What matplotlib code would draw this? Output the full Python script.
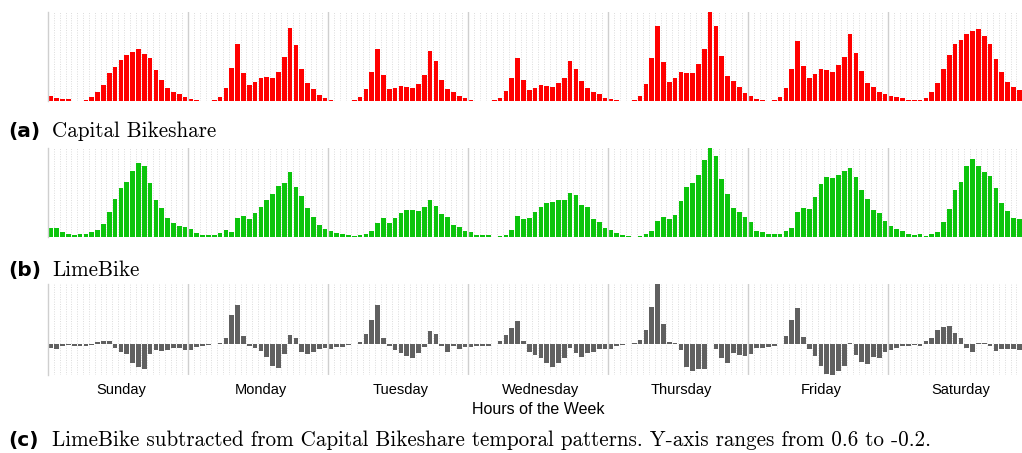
import matplotlib
matplotlib.use("Agg")
import matplotlib.pyplot as plt

days = ["Sunday", "Monday", "Tuesday", "Wednesday", "Thursday", "Friday", "Saturday"]

# share of trips per hour, each series scaled to its own max (Sun 0h .. Sat 23h)
cabi = [
    0.056, 0.034, 0.022, 0.022, 0.004, 0.004, 0.011, 0.045, 0.10, 0.18, 0.315, 0.38,
    0.46, 0.517, 0.55, 0.584, 0.528, 0.483, 0.348, 0.236, 0.146, 0.10, 0.079, 0.045,
    0.022, 0.011, 0.003, 0.003, 0.011, 0.045, 0.146, 0.371, 0.64, 0.315, 0.18, 0.213,
    0.258, 0.27, 0.258, 0.326, 0.494, 0.82, 0.629, 0.36, 0.202, 0.135, 0.067, 0.034,
    0.011, 0.003, 0.003, 0.003, 0.011, 0.045, 0.135, 0.326, 0.584, 0.292, 0.135, 0.146,
    0.169, 0.157, 0.146, 0.19, 0.292, 0.562, 0.449, 0.236, 0.135, 0.10, 0.056, 0.034,
    0.011, 0.003, 0.003, 0.003, 0.011, 0.034, 0.112, 0.258, 0.483, 0.236, 0.124, 0.146,
    0.18, 0.169, 0.157, 0.202, 0.258, 0.449, 0.36, 0.225, 0.146, 0.10, 0.079, 0.034,
    0.022, 0.011, 0.003, 0.003, 0.011, 0.056, 0.19, 0.483, 0.843, 0.438, 0.213, 0.258,
    0.326, 0.315, 0.315, 0.416, 0.584, 1.0, 0.843, 0.506, 0.281, 0.225, 0.157, 0.09,
    0.056, 0.022, 0.011, 0.003, 0.011, 0.045, 0.146, 0.36, 0.674, 0.393, 0.258, 0.303,
    0.36, 0.348, 0.326, 0.404, 0.494, 0.753, 0.539, 0.337, 0.202, 0.157, 0.10, 0.079,
    0.056, 0.045, 0.034, 0.011, 0.007, 0.007, 0.034, 0.10, 0.202, 0.36, 0.517, 0.64,
    0.685, 0.753, 0.787, 0.809, 0.73, 0.64, 0.472, 0.326, 0.213, 0.157, 0.124, 0.09,
]

lime = [
    0.101, 0.101, 0.056, 0.034, 0.022, 0.034, 0.034, 0.056, 0.079, 0.146, 0.281, 0.427,
    0.551, 0.618, 0.742, 0.831, 0.798, 0.607, 0.416, 0.326, 0.213, 0.157, 0.124, 0.112,
    0.09, 0.045, 0.022, 0.022, 0.022, 0.045, 0.079, 0.056, 0.213, 0.236, 0.202, 0.27,
    0.337, 0.416, 0.483, 0.573, 0.607, 0.73, 0.562, 0.461, 0.326, 0.225, 0.135, 0.09,
    0.067, 0.045, 0.034, 0.022, 0.011, 0.022, 0.034, 0.067, 0.157, 0.213, 0.157, 0.213,
    0.27, 0.303, 0.303, 0.292, 0.337, 0.416, 0.348, 0.258, 0.225, 0.135, 0.112, 0.067,
    0.056, 0.022, 0.022, 0.022, 0.003, 0.011, 0.022, 0.079, 0.236, 0.202, 0.213, 0.281,
    0.337, 0.382, 0.393, 0.416, 0.416, 0.494, 0.472, 0.36, 0.337, 0.202, 0.169, 0.101,
    0.079, 0.045, 0.022, 0.011, 0.003, 0.011, 0.034, 0.067, 0.18, 0.225, 0.202, 0.247,
    0.404, 0.562, 0.607, 0.697, 0.865, 1.0, 0.91, 0.652, 0.483, 0.326, 0.281, 0.225,
    0.169, 0.067, 0.056, 0.034, 0.034, 0.034, 0.067, 0.101, 0.281, 0.326, 0.315, 0.449,
    0.596, 0.674, 0.663, 0.697, 0.742, 0.775, 0.674, 0.528, 0.427, 0.303, 0.27, 0.18,
    0.124, 0.09, 0.067, 0.034, 0.022, 0.034, 0.011, 0.034, 0.056, 0.169, 0.315, 0.528,
    0.618, 0.798, 0.876, 0.798, 0.73, 0.685, 0.551, 0.382, 0.292, 0.213, 0.202, 0.17,
]

# capital bikeshare minus limebike
diff = [
    -0.052, -0.063, -0.022, -0.015, -0.022, -0.022, -0.022, -0.015, 0.015, 0.026, 0.026, -0.052,
    -0.097, -0.119, -0.209, -0.254, -0.276, -0.119, -0.075, -0.086, -0.075, -0.052, -0.052, -0.075,
    -0.075, -0.041, -0.022, -0.015, -0.007, 0.004, 0.06, 0.317, 0.429, 0.082, -0.022, -0.052,
    -0.086, -0.153, -0.243, -0.265, -0.119, 0.093, 0.06, -0.097, -0.119, -0.097, -0.063, -0.052,
    -0.063, -0.041, -0.041, -0.015, -0.007, 0.015, 0.104, 0.261, 0.429, 0.06, -0.022, -0.075,
    -0.108, -0.142, -0.164, -0.108, -0.041, 0.138, 0.104, -0.03, -0.097, -0.03, -0.063, -0.041,
    -0.041, -0.03, -0.03, -0.03, -0.007, 0.026, 0.093, 0.172, 0.25, 0.026, -0.097, -0.131,
    -0.164, -0.22, -0.254, -0.22, -0.164, -0.052, -0.108, -0.153, -0.108, -0.097, -0.063, -0.063,
    -0.063, -0.03, -0.015, -0.007, 0.004, 0.037, 0.149, 0.407, 0.664, 0.216, 0.015, 0.004,
    -0.075, -0.254, -0.299, -0.276, -0.284, -0.004, -0.063, -0.164, -0.209, -0.108, -0.131, -0.142,
    -0.119, -0.052, -0.052, -0.041, -0.03, -0.007, 0.082, 0.261, 0.396, 0.071, -0.063, -0.142,
    -0.243, -0.332, -0.343, -0.299, -0.243, 0.004, -0.131, -0.198, -0.231, -0.153, -0.164, -0.097,
    -0.075, -0.052, -0.03, -0.03, -0.019, -0.03, 0.026, 0.06, 0.149, 0.183, 0.194, 0.116,
    0.06, -0.052, -0.097, 0.004, 0.004, -0.03, -0.086, -0.063, -0.063, -0.063, -0.075, -0.08,
]

W, H = 1022, 453


def add_panel(fig, top, bottom):
    """
    axes placed in pixel coords; the week runs a bit past the right edge
    """
    ax = fig.add_axes([48 / W, 1 - bottom / H, 980 / W, (bottom - top) / H])
    ax.set_xlim(0, 168)
    for h in range(1, 168):
        if h % 24 == 0:
            ax.axvline(h, color="#cfcfcf", lw=1.0, zorder=3)
        else:
            ax.axvline(h, color="#dcdcdc", lw=0.7, ls=(0, (1, 1.5)), zorder=1)
    for side in ["top", "right", "bottom"]:
        ax.spines[side].set_visible(False)
    ax.spines["left"].set_color("#cfcfcf")
    ax.spines["left"].set_linewidth(1.0)
    ax.set_yticks([])
    ax.set_xticks([])
    return ax


def draw_bars(ax, values, color):
    hours = [h + 0.5 for h in range(len(values))]
    ax.bar(hours, values, width=0.82, color=color, linewidth=0, zorder=2)


fig = plt.figure(figsize=(W / 100, H / 100), dpi=100)

ax_a = add_panel(fig, 12, 101)
draw_bars(ax_a, cabi, "#ff0000")
ax_a.set_ylim(0, max(cabi))

ax_b = add_panel(fig, 148, 237)
draw_bars(ax_b, lime, "#0cc40c")
ax_b.set_ylim(0, max(lime))

ax_c = add_panel(fig, 284, 375)
draw_bars(ax_c, diff, "#606060")
ax_c.set_ylim(min(diff) - 0.005, max(diff))
ax_c.set_xticks([d * 24 + 12.5 for d in range(7)])
ax_c.set_xticklabels(days, fontsize=10.5, family="Liberation Sans")
ax_c.tick_params(axis="x", length=0, pad=6)

fig.text(538 / W, 1 - 409 / H, "Hours of the Week", ha="center", va="center",
         fontsize=11.5, family="Liberation Sans")

captions = [
    (137, "(a)", "Capital Bikeshare"),
    (276, "(b)", "LimeBike"),
    (446, "(c)", "LimeBike subtracted from Capital Bikeshare temporal patterns. "
                 "Y-axis ranges from 0.6 to -0.2."),
]
for y, tag, text in captions:
    fig.text(8 / W, 1 - y / H, tag, ha="left", va="baseline",
             fontsize=14.5, fontweight="bold", family="DejaVu Sans")
    fig.text(52 / W, 1 - y / H, text, ha="left", va="baseline",
             fontsize=15.2, family="cmr10")

fig.savefig("out.png", dpi=100)
